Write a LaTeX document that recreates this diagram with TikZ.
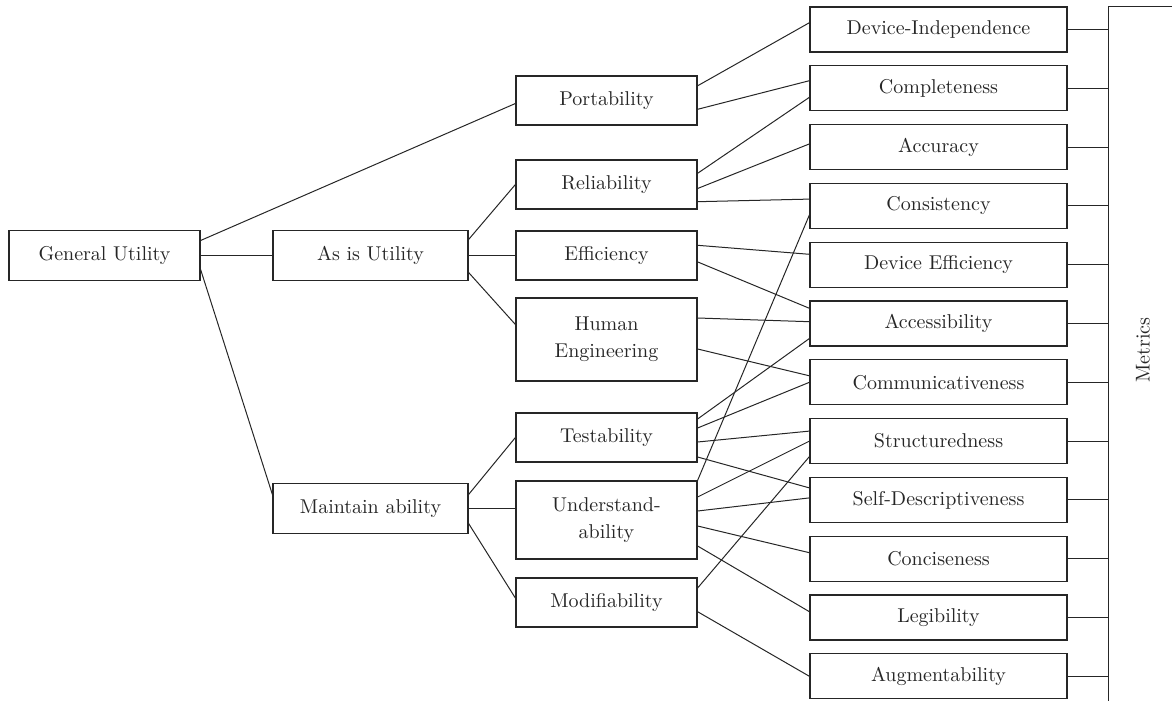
\documentclass[tikz,border=0pt]{standalone}
\usetikzlibrary{calc}
\begin{document}
\begin{tikzpicture}[x=0.5pt,y=-0.5pt,
	box/.style={draw=black!85,line width=0.6pt,inner sep=2pt,align=center,text=black!85},
	topbox/.style={box,minimum width=97.5pt,minimum height=25pt},
	midbox/.style={box,minimum width=90.5pt,minimum height=24.5pt},
	metbox/.style={box,minimum width=128.5pt,minimum height=22.5pt},
	link/.style={line width=0.5pt,draw=black!85}]
	\useasboundingbox (0,0) rectangle (1172,701);
	\node[topbox,minimum width=95.5pt] (gu) at (104.5,255.5) {General Utility};
	\node[topbox] (asis) at (370.5,255.5) {As is Utility};
	\node[topbox] (maint) at (370.5,508.5) {Maintain ability};
	\node[midbox] (port) at (606.5,100.5) {Portability};
	\node[midbox] (rel) at (606.5,184.5) {Reliability};
	\node[midbox] (eff) at (606.5,255.5) {Efficiency};
	\node[midbox,minimum height=41.5pt] (human) at (606.5,339.5) {Human\\[1.5pt]Engineering};
	\node[midbox] (test) at (606.5,437.5) {Testability};
	\node[midbox,minimum height=39pt] (under) at (606.5,520) {Understand-\\[1.5pt]ability};
	\node[midbox] (modif) at (606.5,602.5) {Modifiability};
	\foreach \n/\t [count=\i from 0] in {devind/Device-Independence,complete/Completeness,accur/Accuracy,consist/Consistency,deveff/Device Efficiency,access/Accessibility,commun/Communicativeness,struct/Structuredness,selfdesc/Self-Descriptiveness,concise/Conciseness,legib/Legibility,augment/Augmentability}
		\node[metbox] (\n) at (938.5,{29.5+58.8*\i}) {\t};
	\coordinate (bartop) at (1108,7);
	\coordinate (barbot) at (1108,701);
	\coordinate (barend) at (1172,7);
	\draw[link] (barend) -- (bartop) -- (barbot);
	\foreach \n in {devind,complete,accur,consist,deveff,access,commun,struct,selfdesc,concise,legib,augment}
		\draw[link] (\n.east) -- (\n.east -| bartop);
	\node[rotate=90,text=black!85] (metrics) at (1143,350) {Metrics};
	\draw[link] ([yshift=7.5pt]gu.east) -- ([yshift=-1.5pt]port.west);
	\draw[link] (gu.east) -- (gu.east -| asis.west);
	\draw[link] ([yshift=-7pt]gu.east) -- ([yshift=7pt]maint.west);
	\draw[link] ([yshift=8pt]asis.east) -- (rel.west);
	\draw[link] (asis.east) -- (asis.east -| eff.west);
	\draw[link] ([yshift=-8.5pt]asis.east) -- ([yshift=7.5pt]human.west);
	\draw[link] ([yshift=7pt]maint.east) -- (test.west);
	\draw[link] (maint.east) -- (maint.east -| under.west);
	\draw[link] ([yshift=-7.5pt]maint.east) -- ([yshift=2.2pt]modif.west);
	\draw[link] ([yshift=7.35pt]port.east) -- ([yshift=3.4pt]devind.west);
	\draw[link] ([yshift=-4.4pt]port.east) -- ([yshift=3.8pt]complete.west);
	\draw[link] ([yshift=5.6pt]rel.east) -- ([yshift=-4.5pt]complete.west);
	\draw[link] ([yshift=-2pt]rel.east) -- ([yshift=1.6pt]accur.west);
	\draw[link] ([yshift=-8.6pt]rel.east) -- ([yshift=3.4pt]consist.west);
	\draw[link] ([yshift=5.1pt]eff.east) -- ([yshift=5.2pt]deveff.west);
	\draw[link] ([yshift=-3.2pt]eff.east) -- ([yshift=7.6pt]access.west);
	\draw[link] ([yshift=10.75pt]human.east) -- ([yshift=0.9pt]access.west);
	\draw[link] ([yshift=-4.75pt]human.east) -- ([yshift=3.25pt]commun.west);
	\draw[link] ([yshift=9.25pt]test.east) -- ([yshift=-7.5pt]access.west);
	\draw[link] ([yshift=4.75pt]test.east) -- (commun.west);
	\draw[link] ([yshift=-2.25pt]test.east) -- ([yshift=5pt]struct.west);
	\draw[link] ([yshift=-9.75pt]test.east) -- ([yshift=6pt]selfdesc.west);
	\draw[link] (under.north east) -- ([yshift=-4.5pt]consist.west);
	\draw[link] ([yshift=11.5pt]under.east) -- (struct.west);
	\draw[link] ([yshift=4.5pt]under.east) -- ([yshift=1pt]selfdesc.west);
	\draw[link] ([yshift=-3pt]under.east) -- ([yshift=3pt]concise.west);
	\draw[link] ([yshift=-13pt]under.east) -- ([yshift=2.9pt]legib.west);
	\draw[link] ([yshift=7.25pt]modif.east) -- ([yshift=-7.75pt]struct.west);
	\draw[link] ([yshift=-4.6pt]modif.east) -- (augment.west);
\end{tikzpicture}
\end{document}
